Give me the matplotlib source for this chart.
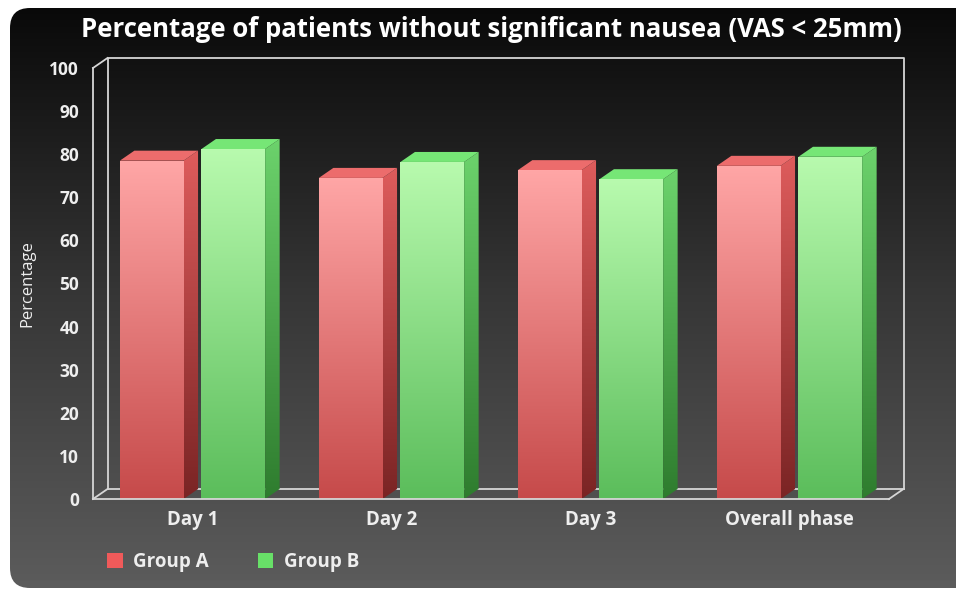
import matplotlib.pyplot as plt
import numpy as np
from matplotlib.patches import FancyBboxPatch, Polygon, Patch
from matplotlib.colors import LinearSegmentedColormap

categories = ['Day 1', 'Day 2', 'Day 3', 'Overall phase']
group_a = [78.5, 74.5, 76.3, 77.3]
group_b = [81.2, 78.2, 74.2, 79.4]
series_names = ['Group A', 'Group B']
y_ticks = np.arange(0, 101, 10)

plt.rcParams['font.family'] = ['Open Sans', 'DejaVu Sans']

W, H = 956, 590
fig = plt.figure(figsize=(W / 100, H / 100), dpi=100)
fig.patch.set_facecolor('white')

grad = np.linspace(0, 1, 256).reshape(-1, 1)

# dark rounded panel with vertical gradient
bg = fig.add_axes([0, 0, 1, 1], zorder=-5)
bg.set_xlim(0, W)
bg.set_ylim(H, 0)
bg.axis('off')
panel = FancyBboxPatch((10, 8), W + 40, H - 10,
                       boxstyle='round,pad=0,rounding_size=20',
                       facecolor='none', edgecolor='none')
bg.add_patch(panel)
bg_cmap = LinearSegmentedColormap.from_list('bg', ['#080808', '#363636', '#5c5c5c'])
bg_img = bg.imshow(grad, extent=[0, W, H, 0], cmap=bg_cmap, aspect='auto')
bg_img.set_clip_path(panel)

# main axes (front plane of the 3d box)
ax = fig.add_axes([93 / W, 91 / H, 796 / W, 431 / H])
ax.patch.set_visible(False)
for s in ax.spines.values():
    s.set_visible(False)

x0, x1 = -0.5, 3.5
dx = 14.5 / 796 * (x1 - x0)
dy = 10 / 431 * 100

frame = dict(color='#d6d6d6', lw=1.3, clip_on=False)
# back wall + floor
ax.plot([x0 + dx, x0 + dx, x1 + dx, x1 + dx], [dy, 100 + dy, 100 + dy, dy], zorder=1, **frame)
ax.plot([x0 + dx, x1 + dx], [dy, dy], zorder=1, **frame)
ax.plot([x0, x0 + dx], [100, 100 + dy], zorder=1, **frame)
ax.plot([x0, x0 + dx], [0, dy], zorder=1, **frame)
ax.plot([x1, x1 + dx], [0, dy], zorder=1, **frame)
# front
ax.plot([x0, x0], [0, 100], zorder=10, **frame)
ax.plot([x0, x1], [0, 0], zorder=10, **frame)


def shade(verts, colors, z):
    poly = Polygon(verts, closed=True, facecolor='none', edgecolor='none', zorder=z)
    ax.add_patch(poly)
    xs = [v[0] for v in verts]
    ys = [v[1] for v in verts]
    cmap = LinearSegmentedColormap.from_list('f', colors)
    img = ax.imshow(grad, extent=[min(xs), max(xs), min(ys), max(ys)],
                    cmap=cmap, aspect='auto', zorder=z, interpolation='bilinear')
    img.set_clip_path(poly)


styles = [
    dict(front=['#ffa6a6', '#c64a4a'], side=['#de5c5c', '#7a2424'], top='#ec6c6c'),
    dict(front=['#b8faae', '#5bbd5b'], side=['#6cd26c', '#2e7c2e'], top='#76e676'),
]

x = np.arange(len(categories))
width = 0.32
offset = 0.205
for k, (vals, st) in enumerate(zip([group_a, group_b], styles)):
    bars = ax.bar(x + (k - 0.5) * 2 * offset, vals, width, color='none', zorder=4)
    for b in bars:
        l = b.get_x()
        r = l + b.get_width()
        h = b.get_height()
        shade([(r, 0), (r + dx, dy), (r + dx, h + dy), (r, h)], st['side'], 3)
        ax.add_patch(Polygon([(l, h), (r, h), (r + dx, h + dy), (l + dx, h + dy)],
                             closed=True, facecolor=st['top'], edgecolor='none', zorder=3))
        shade([(l, 0), (r, 0), (r, h), (l, h)], st['front'], 4)

ax.set_xlim(x0, x1)
ax.set_ylim(0, 100)
ax.set_yticks(y_ticks)
ax.set_xticks(x, categories)
ax.tick_params(axis='y', length=0, pad=10, labelcolor='#eeeeee', labelsize=12.5)
ax.tick_params(axis='x', length=0, pad=8, labelcolor='#eeeeee', labelsize=13.5)
for lab in ax.get_yticklabels() + ax.get_xticklabels():
    lab.set_fontweight('bold')

ax.set_ylabel('Percentage', color='#eeeeee', fontsize=12, labelpad=10)
ax.set_title('Percentage of patients without significant nausea (VAS < 25mm)',
             color='white', fontsize=18.5, fontweight='bold', pad=22)

handles = [Patch(facecolor='#f05a5a'), Patch(facecolor='#68e068')]
fig.legend(handles, series_names, loc='center left', bbox_to_anchor=(90 / W, 1 - 562 / H),
           ncol=2, frameon=False, handlelength=0.85, handleheight=0.85, columnspacing=2.6,
           handletextpad=0.55, labelcolor='#eeeeee', prop=dict(weight='bold', size=13.5))

plt.savefig('out.png', dpi=100)
